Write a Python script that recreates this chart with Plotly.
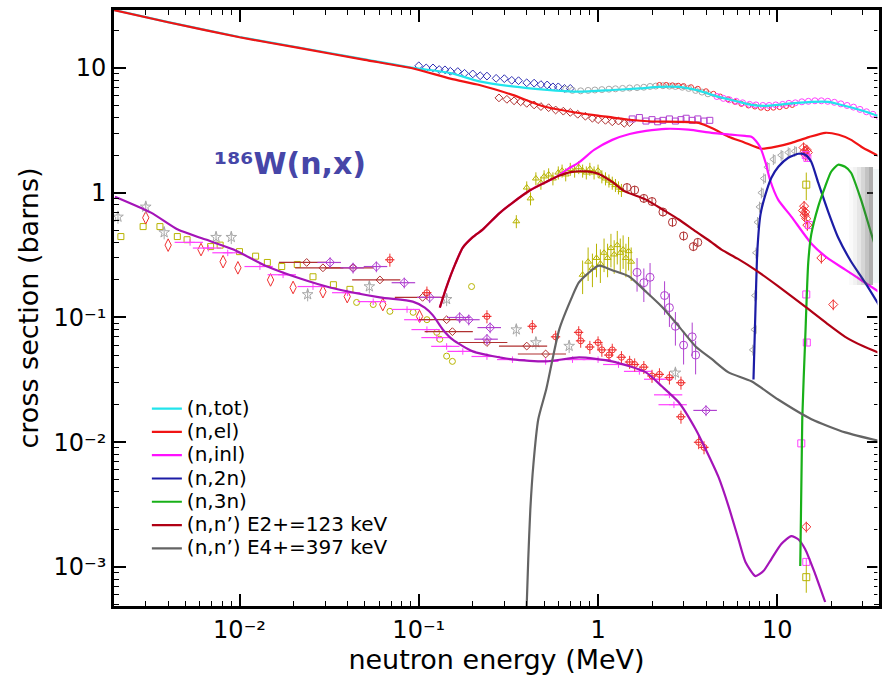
import plotly.graph_objects as go

# ---------------- evaluated curves (energy in MeV, cross section in barns) ----------------
tot_E = [0.002, 0.004, 0.01, 0.0218, 0.05, 0.093, 0.15, 0.218, 0.333, 0.5, 0.78, 1.2, 1.7, 2.18, 2.82, 3.6, 4.7,
         6.0, 7.17, 8.5, 10.1, 12.5, 15.5, 19.2, 24.0, 30.0, 37.5]
tot_xs = [29.1, 23.3, 17.7, 14.5, 11.7, 10.0, 9.1, 7.8, 7.1, 6.7, 6.45, 6.65, 6.85, 7.05, 7.05, 6.6, 5.86,
          5.38, 5.06, 4.97, 5.06, 5.22, 5.34, 5.34, 4.95, 4.53, 4.06]

el_E = [0.002, 0.004, 0.01, 0.0218, 0.05, 0.093, 0.15, 0.218, 0.333, 0.5, 0.78, 1.0, 1.49, 2.0, 2.82, 3.64, 4.4,
        5.34, 6.5, 8.15, 10.0, 12.0, 15.0, 18.5, 22.0, 25.8, 30.0, 37.5]
el_xs = [29.0, 23.2, 17.6, 14.4, 11.6, 9.9, 8.2, 7.3, 6.08, 4.9, 4.35, 4.15, 3.84, 3.72, 3.70, 3.63, 3.25,
         2.81, 2.54, 2.25, 2.35, 2.51, 2.79, 3.02, 2.91, 2.65, 2.29, 1.94]

inl_E = [0.131, 0.143, 0.16, 0.176, 0.2, 0.227, 0.28, 0.333, 0.42, 0.514, 0.585, 0.68, 0.78, 0.95, 1.2, 1.5, 1.85,
         2.39, 3.2, 4.3, 5.5, 6.6, 7.17, 7.6, 8.0, 8.6, 9.1, 10.1, 12.0, 15.5, 19.0, 23.9, 30.0, 37.5]
inl_xs = [0.12, 0.177, 0.27, 0.363, 0.44, 0.506, 0.68, 0.83, 1.05, 1.22, 1.34, 1.55, 1.74, 2.2, 2.65, 2.95, 3.13,
          3.25, 3.2, 3.02, 2.92, 2.85, 2.81, 2.6, 2.33, 1.74, 1.27, 0.88, 0.64, 0.39, 0.30, 0.242, 0.195, 0.158]

n2n_E = [7.36, 7.55, 7.74, 8.05, 8.58, 9.26, 10.13, 11.51, 13.08, 14.3, 15.45, 16.9, 19.2, 21.83, 25.77, 30.83, 37.35]
n2n_xs = [0.0319, 0.116, 0.35, 0.667, 0.964, 1.318, 1.614, 1.905, 2.051, 2.013, 1.77, 1.202, 0.705, 0.437, 0.281,
          0.191, 0.122]

n3n_E = [13.42, 13.77, 14.3, 14.87, 15.45, 16.9, 18.48, 19.95, 21.83, 23.86, 25.77, 29.29, 33.28, 37.35]
n3n_xs = [0.00102, 0.0153, 0.0667, 0.275, 0.461, 0.773, 1.117, 1.472, 1.675, 1.614, 1.445, 0.879, 0.479, 0.281]

e2_E = [0.131, 0.143, 0.16, 0.176, 0.2, 0.227, 0.28, 0.333, 0.42, 0.514, 0.6, 0.717, 0.85, 1.0, 1.2, 1.4, 1.85,
        2.3, 2.82, 3.5, 4.3, 4.88, 6.0, 7.5, 10.0, 14.3, 19.0, 23.9, 30.0, 37.5]
e2_xs = [0.12, 0.177, 0.27, 0.363, 0.44, 0.506, 0.68, 0.83, 1.05, 1.22, 1.36, 1.47, 1.48, 1.42, 1.22, 1.03, 0.88,
         0.73, 0.61, 0.49, 0.40, 0.35, 0.296, 0.242, 0.18, 0.122, 0.089, 0.070, 0.059, 0.0515]

e4_E = [0.398, 0.408, 0.419, 0.436, 0.464, 0.514, 0.607, 0.717, 0.78, 0.88, 1.01, 1.2, 1.49, 1.85, 2.27, 2.8, 3.5,
        4.3, 5.34, 7.17, 10.1, 15.5, 23.9, 37.5]
e4_xs = [0.0004, 0.00116, 0.0029, 0.0067, 0.0153, 0.0266, 0.080, 0.147, 0.19, 0.226, 0.26, 0.239, 0.213, 0.161,
         0.122, 0.086, 0.0586, 0.0465, 0.0363, 0.0308, 0.022, 0.0153, 0.012, 0.0102]

cap_E = [0.00202, 0.00321, 0.00453, 0.00648, 0.00926, 0.0143, 0.0218, 0.032, 0.0607, 0.0926, 0.108, 0.12, 0.136,
         0.154, 0.2, 0.333, 0.514, 0.784, 1.196, 1.848, 2.268, 2.818, 3.502, 3.981, 4.7, 5.34, 6.07, 6.64, 7.55,
         8.36, 9.26, 10.52, 11.96, 13.08, 14.3, 16.26, 18.48]
cap_xs = [0.929, 0.692, 0.506, 0.421, 0.35, 0.256, 0.205, 0.174, 0.145, 0.134, 0.12, 0.104, 0.0802, 0.0667, 0.0535,
          0.0461, 0.0445, 0.0479, 0.0445, 0.0363, 0.0281, 0.0209, 0.0127, 0.00879, 0.00525, 0.00308, 0.00167,
          0.0011, 0.000847, 0.000929, 0.00116, 0.00153, 0.00177, 0.00167, 0.00139, 0.000879, 0.000525]

# ---------------- experimental data ----------------
tot_blue_E = [0.10, 0.11, 0.12, 0.13, 0.14, 0.15, 0.165, 0.18, 0.2, 0.22, 0.24, 0.27, 0.3, 0.33, 0.36, 0.4, 0.44,
              0.48, 0.52, 0.56, 0.6, 0.65, 0.7]
tot_blue_xs = [10.4, 10.0, 10.0, 9.7, 9.65, 9.4, 9.35, 9.05, 8.95, 8.65, 8.6, 8.25, 8.2, 7.95, 7.9, 7.6, 7.55,
               7.35, 7.3, 7.05, 7.05, 6.85, 6.85]
tot_gray_E = [0.66, 0.72, 0.8, 0.88, 0.96, 1.05, 1.15, 1.25, 1.37, 1.5, 1.65, 1.8, 1.95, 2.1, 2.3, 2.5, 2.7, 2.95,
              3.2, 3.5, 3.8, 4.1]
tot_gray_xs = [6.75, 6.6, 6.55, 6.6, 6.65, 6.7, 6.75, 6.8, 6.85, 6.9, 6.95, 7.0, 7.1, 7.15, 7.2, 7.15, 7.1, 7.0,
               6.85, 6.6, 6.4, 6.2]
tot_red_E = [2.2, 2.4, 2.6, 2.8, 3.0, 3.3, 3.6, 4.0, 4.4, 4.8, 5.3, 5.8, 6.3, 6.9, 7.5, 8.1, 8.8, 9.5, 10.3, 11.2, 12.1]
tot_red_xs = [7.3, 7.3, 7.25, 7.2, 7.15, 7.0, 6.8, 6.5, 6.2, 5.9, 5.6, 5.35, 5.15, 5.0, 4.9, 4.8, 4.75, 4.8, 4.85,
              4.95, 5.05]
tot_mag_E = [4.6, 5.0, 5.4, 5.9, 6.4, 7.0, 7.6, 8.3, 9.0, 9.8, 10.7, 11.6, 12.6, 13.7, 14.9, 16.2, 17.6, 19.1, 20.8,
             22.6, 24.5, 26.6, 28.9, 31.4, 34.1, 37.0]
tot_mag_xs = [5.9, 5.7, 5.55, 5.4, 5.25, 5.1, 5.05, 5.0, 5.0, 5.05, 5.1, 5.2, 5.25, 5.35, 5.4, 5.45, 5.45, 5.4, 5.3,
              5.15, 5.0, 4.85, 4.65, 4.45, 4.25, 4.05]

el_dred_E = [0.28, 0.31, 0.34, 0.37, 0.40, 0.44, 0.48, 0.53, 0.58, 0.64, 0.70, 0.77, 0.85, 0.93, 1.0, 1.1, 1.2, 1.3,
             1.4, 1.5]
el_dred_xs = [5.75, 5.6, 5.45, 5.35, 5.2, 5.05, 4.9, 4.8, 4.6, 4.5, 4.4, 4.25, 4.1, 3.95, 3.85, 3.8, 3.7, 3.75, 3.6,
              3.65]
el_purp_E = [1.55, 1.7, 1.85, 2.0, 2.15, 2.3, 2.5, 2.7, 2.9, 3.1, 3.35, 3.6, 3.9, 4.2]
el_purp_xs = [3.9, 4.0, 3.75, 3.85, 3.7, 3.8, 3.9, 3.75, 3.85, 3.95, 3.8, 3.9, 3.75, 3.8]

d14_red_E = [14.0, 14.2, 14.4, 14.6, 14.8, 14.1, 14.3, 14.5, 14.7, 13.9, 14.2, 20.5, 17.6, 14.5]
d14_red_xs = [2.3, 2.15, 2.0, 2.2, 2.1, 0.78, 0.70, 0.62, 0.55, 0.72, 0.66, 0.127, 0.30, 0.0021]
d14_mag_E = [14.4, 14.7, 15.0, 14.5, 14.6, 13.6, 14.5]
d14_mag_xs = [2.0, 1.9, 0.55, 0.153, 0.063, 0.0098, 0.0011]
d14_olive_E = [14.5, 14.5]
d14_olive_xs = [1.16, 0.00083]

n2n_gray_E = [7.3, 7.45, 7.5, 7.6, 7.75, 7.95, 8.15, 8.4, 8.8, 9.5, 10.5, 11.5, 12.5]
n2n_gray_xs = [0.055, 0.08, 0.15, 0.33, 0.58, 0.77, 1.0, 1.3, 1.6, 1.85, 2.0, 2.1, 2.15]

e2_olive_E = [0.35, 0.40, 0.42, 0.45, 0.48, 0.50, 0.53, 0.56, 0.60, 0.63, 0.66, 0.70, 0.74, 0.78, 0.82, 0.86, 0.90,
              0.95, 1.0, 1.05, 1.1, 1.15, 1.2, 1.25, 1.3, 1.35]
e2_olive_xs = [0.59, 1.1, 0.9, 1.3, 1.2, 1.35, 1.4, 1.3, 1.45, 1.5, 1.4, 1.55, 1.5, 1.6, 1.5, 1.45, 1.55, 1.45, 1.5,
               1.35, 1.3, 1.25, 1.2, 1.15, 1.1, 1.05]
e4_olive_E = [0.82, 0.88, 0.93, 0.98, 1.03, 1.08, 1.13, 1.18, 1.23, 1.28, 1.33, 1.38, 1.43, 1.48, 1.53]
e4_olive_xs = [0.22, 0.28, 0.25, 0.3, 0.27, 0.33, 0.3, 0.36, 0.32, 0.38, 0.33, 0.35, 0.3, 0.34, 0.28]
e2_dred_E = [1.45, 1.6, 1.8, 2.0, 2.3, 2.6, 3.0, 3.4, 3.6]
e2_dred_xs = [1.1, 1.05, 0.9, 0.85, 0.7, 0.58, 0.45, 0.37, 0.40]
e4_purp_E = [1.65, 1.8, 1.95, 2.35, 2.5, 2.7, 3.0, 3.35, 3.5]
e4_purp_xs = [0.23, 0.19, 0.21, 0.15, 0.12, 0.085, 0.06, 0.07, 0.05]

cap_olsq_E = [0.00218, 0.0029, 0.0036, 0.0045, 0.0051, 0.0069, 0.0078, 0.010, 0.0123, 0.0143, 0.0172, 0.021,
              0.0257, 0.0334, 0.0413]
cap_olsq_xs = [0.445, 0.535, 0.535, 0.445, 0.42, 0.37, 0.38, 0.337, 0.31, 0.276, 0.256, 0.266, 0.212, 0.183, 0.168]
cap_olc_E = [0.045, 0.0557, 0.069, 0.093, 0.111, 0.126, 0.131, 0.143, 0.154, 0.197]
cap_olc_xs = [0.132, 0.127, 0.112, 0.11, 0.096, 0.076, 0.067, 0.049, 0.0445, 0.177]
cap_rdia_E = [0.003, 0.004, 0.0061, 0.0081, 0.0098, 0.0149, 0.0199, 0.0292, 0.0399, 0.063, 0.101]
cap_rdia_xs = [0.63, 0.38, 0.35, 0.28, 0.25, 0.2, 0.174, 0.161, 0.147, 0.127, 0.102]
cap_gstar_E = [0.0021, 0.003, 0.0038, 0.0074, 0.009, 0.024, 0.053, 0.143, 0.35, 0.45, 0.69, 2.7]
cap_gstar_xs = [0.64, 0.77, 0.48, 0.44, 0.44, 0.153, 0.177, 0.14, 0.08, 0.063, 0.059, 0.036]
cap_mag_E = [0.0053, 0.0067, 0.0086, 0.013, 0.0175, 0.0257, 0.04, 0.0557, 0.086, 0.101, 0.111, 0.126, 0.143, 0.176,
             0.24, 0.333, 0.51, 0.72, 1.0, 1.3, 1.7, 2.2, 2.5, 2.65]
cap_mag_xs = [0.40, 0.36, 0.33, 0.256, 0.22, 0.177, 0.158, 0.134, 0.116, 0.096, 0.08, 0.069, 0.0587, 0.0535,
              0.0487, 0.046, 0.0445, 0.046, 0.046, 0.042, 0.037, 0.032, 0.024, 0.020]
cap_dred_E = [0.0237, 0.0292, 0.043, 0.0607, 0.105, 0.143, 0.154, 0.24, 0.4, 0.51]
cap_dred_xs = [0.276, 0.25, 0.25, 0.2, 0.145, 0.096, 0.077, 0.063, 0.059, 0.051]
cap_purp_E = [0.032, 0.043, 0.058, 0.083, 0.115, 0.169, 0.19, 0.25, 0.24, 4.0]
cap_purp_xs = [0.276, 0.25, 0.256, 0.19, 0.145, 0.1, 0.096, 0.083, 0.067, 0.018]
cap_red_E = [0.069, 0.111, 0.24, 0.43, 0.58, 0.78, 0.8, 0.9, 1.0, 1.05, 1.15, 1.2, 1.35, 1.5, 1.6, 1.8, 2.0, 2.2,
             2.5, 2.9, 2.9, 3.64, 3.9]
cap_red_xs = [0.29, 0.158, 0.102, 0.085, 0.07, 0.076, 0.065, 0.058, 0.063, 0.055, 0.05, 0.055, 0.048, 0.044, 0.042,
              0.04, 0.034, 0.035, 0.033, 0.030, 0.016, 0.01, 0.0091]

# tick labels (unicode superscripts)
x_tickvals = [0.01, 0.1, 1, 10]
x_ticktext = ["10\u207b\u00b2", "10\u207b\u00b9", "1", "10"]
y_tickvals = [0.001, 0.01, 0.1, 1, 10]
y_ticktext = ["10\u207b\u00b3", "10\u207b\u00b2", "10\u207b\u00b9", "1", "10"]

FONT = "DejaVu Sans"
fig = go.Figure()


def add_data(E, xs, color, symbol, size=6, ey=0, ex=0):
    fig.add_trace(go.Scatter(
        x=E, y=xs, mode="markers", showlegend=False, hoverinfo="skip",
        marker=dict(symbol=symbol, size=size, color=color, line=dict(width=1, color=color)),
        error_y=dict(type="percent", value=ey, color=color, thickness=1, width=0, visible=ey > 0),
        error_x=dict(type="percent", value=ex, color=color, thickness=1.2, width=0, visible=ex > 0),
    ))


OLIVE = "#B8B400"
add_data(tot_blue_E, tot_blue_xs, "#3030B4", "diamond-open", 6)
add_data(tot_gray_E, tot_gray_xs, "#A8A8A8", "circle-open", 6)
add_data(tot_red_E, tot_red_xs, "#F03030", "circle-open", 5)
add_data(tot_mag_E, tot_mag_xs, "#FF40FF", "circle-open", 6)
add_data(el_dred_E, el_dred_xs, "#B03030", "diamond-open", 6)
add_data(el_purp_E, el_purp_xs, "#B040D0", "square-open", 6)
add_data(cap_olsq_E, cap_olsq_xs, OLIVE, "square-open", 6)
add_data(cap_olc_E, cap_olc_xs, OLIVE, "circle-open", 6)
add_data(cap_rdia_E, cap_rdia_xs, "#F03030", "diamond-tall-open", 9)
add_data(cap_gstar_E, cap_gstar_xs, "#A8A8A8", "star-open", 8, ey=12)
add_data(cap_mag_E, cap_mag_xs, "#FF40FF", "line-ew-open", 7, ey=6, ex=18)
add_data(cap_dred_E, cap_dred_xs, "#B03030", "diamond-open", 6, ex=30)
add_data(cap_purp_E, cap_purp_xs, "#B040D0", "diamond-open", 7, ey=10, ex=15)
add_data(cap_red_E, cap_red_xs, "#F03030", "circle-open", 6, ey=12, ex=6)
add_data(e2_olive_E, e2_olive_xs, OLIVE, "triangle-up-open", 6, ey=12)
add_data(e4_olive_E, e4_olive_xs, OLIVE, "triangle-up-open", 6, ey=30)
add_data(e2_dred_E, e2_dred_xs, "#B03030", "circle-open", 8, ey=8)
add_data(e4_purp_E, e4_purp_xs, "#B040D0", "circle-open", 8, ey=30)
add_data(n2n_gray_E, n2n_gray_xs, "#A8A8A8", "triangle-left-open", 7, ey=10)
add_data(d14_red_E, d14_red_xs, "#F03030", "diamond-open", 7, ey=10)
add_data(d14_mag_E, d14_mag_xs, "#FF40FF", "square-open", 7, ey=6)
add_data(d14_olive_E, d14_olive_xs, OLIVE, "square-open", 7, ey=25)

curves = [
    ("(n,tot)", tot_E, tot_xs, "#22E4EC"),
    ("(n,el)", el_E, el_xs, "#F01414"),
    ("(n,inl)", inl_E, inl_xs, "#FF10FF"),
    ("(n,2n)", n2n_E, n2n_xs, "#1C1CA6"),
    ("(n,3n)", n3n_E, n3n_xs, "#18B018"),
    ("(n,n\u2019) E2+=123 keV", e2_E, e2_xs, "#B00014"),
    ("(n,n\u2019) E4+=397 keV", e4_E, e4_xs, "#646464"),
]
# capture-like curve without legend entry (drawn under the others)
fig.add_trace(go.Scatter(x=cap_E, y=cap_xs, mode="lines", showlegend=False, hoverinfo="skip",
                         line=dict(color="#A414B8", width=2.2, shape="spline", smoothing=0.6)))
for name, E, xs, col in curves:
    fig.add_trace(go.Scatter(x=E, y=xs, mode="lines", name="<span style='font-size:20px'>" + name + "</span>",
                             line=dict(color=col, width=2.2, shape="spline", smoothing=0.6)))

# ---------------- layout ----------------
L, T, W, H = 114, 10, 768, 596


def px(x):
    return (x - L) / W


def py(y):
    return (T + H - y) / H


minor_vals = [m * 10 ** k for k in range(-4, 3) for m in range(2, 10)]
axis_common = dict(
    type="log", showgrid=False, zeroline=False, showline=True, linecolor="black", linewidth=2.6,
    mirror="ticks", ticks="inside", ticklen=12, tickwidth=2.4, tickcolor="black",
    tickfont=dict(family=FONT, size=24, color="black"),
    minor=dict(ticks="inside", ticklen=5, tickwidth=1.3, tickcolor="black", tickmode="array",
               tickvals=minor_vals, showgrid=False),
)
fig.update_layout(
    width=882, height=677, autosize=False,
    margin=dict(l=L, r=882 - L - W, t=T, b=677 - T - H),
    paper_bgcolor="white", plot_bgcolor="white",
    showlegend=True,
    legend=dict(x=px(147), y=py(392), xanchor="left", yanchor="top", bgcolor="rgba(0,0,0,0)",
                font=dict(family=FONT, size=15.6, color="black"), itemwidth=30, tracegroupgap=0),
    xaxis=dict(axis_common, range=[-2.70, 1.567], tickvals=x_tickvals, ticktext=x_ticktext,
               title=dict(text="neutron energy (MeV)", font=dict(family=FONT, size=27, color="black"),
                          standoff=4)),
    yaxis=dict(axis_common, range=[-3.312, 1.464], tickvals=y_tickvals, ticktext=y_ticktext,
               title=dict(text="cross section (barns)", font=dict(family=FONT, size=27, color="black"),
                          standoff=8)),
)

fig.add_annotation(xref="paper", yref="paper", x=px(212), y=py(163), xanchor="left", yanchor="middle",
                   text="<b>\u00b9\u2078\u2076W(n,x)</b>", showarrow=False,
                   font=dict(family=FONT, size=30, color="#4646A8"))

# the right frame line lies just outside the reference picture: mask it
fig.add_shape(type="rect", xref="paper", yref="paper", layer="above",
              x0=px(880.4), x1=1.0, y0=py(604), y1=py(12),
              fillcolor="white", line=dict(width=0))
# overlapping panel shadow at the right edge
for i, op in enumerate([0.03, 0.05, 0.08, 0.11, 0.15, 0.2]):
    fig.add_shape(type="rect", xref="paper", yref="paper", layer="above",
                  x0=px(852 + 4 * i), x1=px(876), y0=py(285), y1=py(167),
                  fillcolor="rgba(90,90,90,%.2f)" % op, line=dict(width=0))
fig.add_shape(type="rect", xref="paper", yref="paper", layer="above",
              x0=px(876), x1=px(882), y0=py(283), y1=py(169),
              fillcolor="#F2F8F8", line=dict(width=0))

fig.write_html("out.html")
